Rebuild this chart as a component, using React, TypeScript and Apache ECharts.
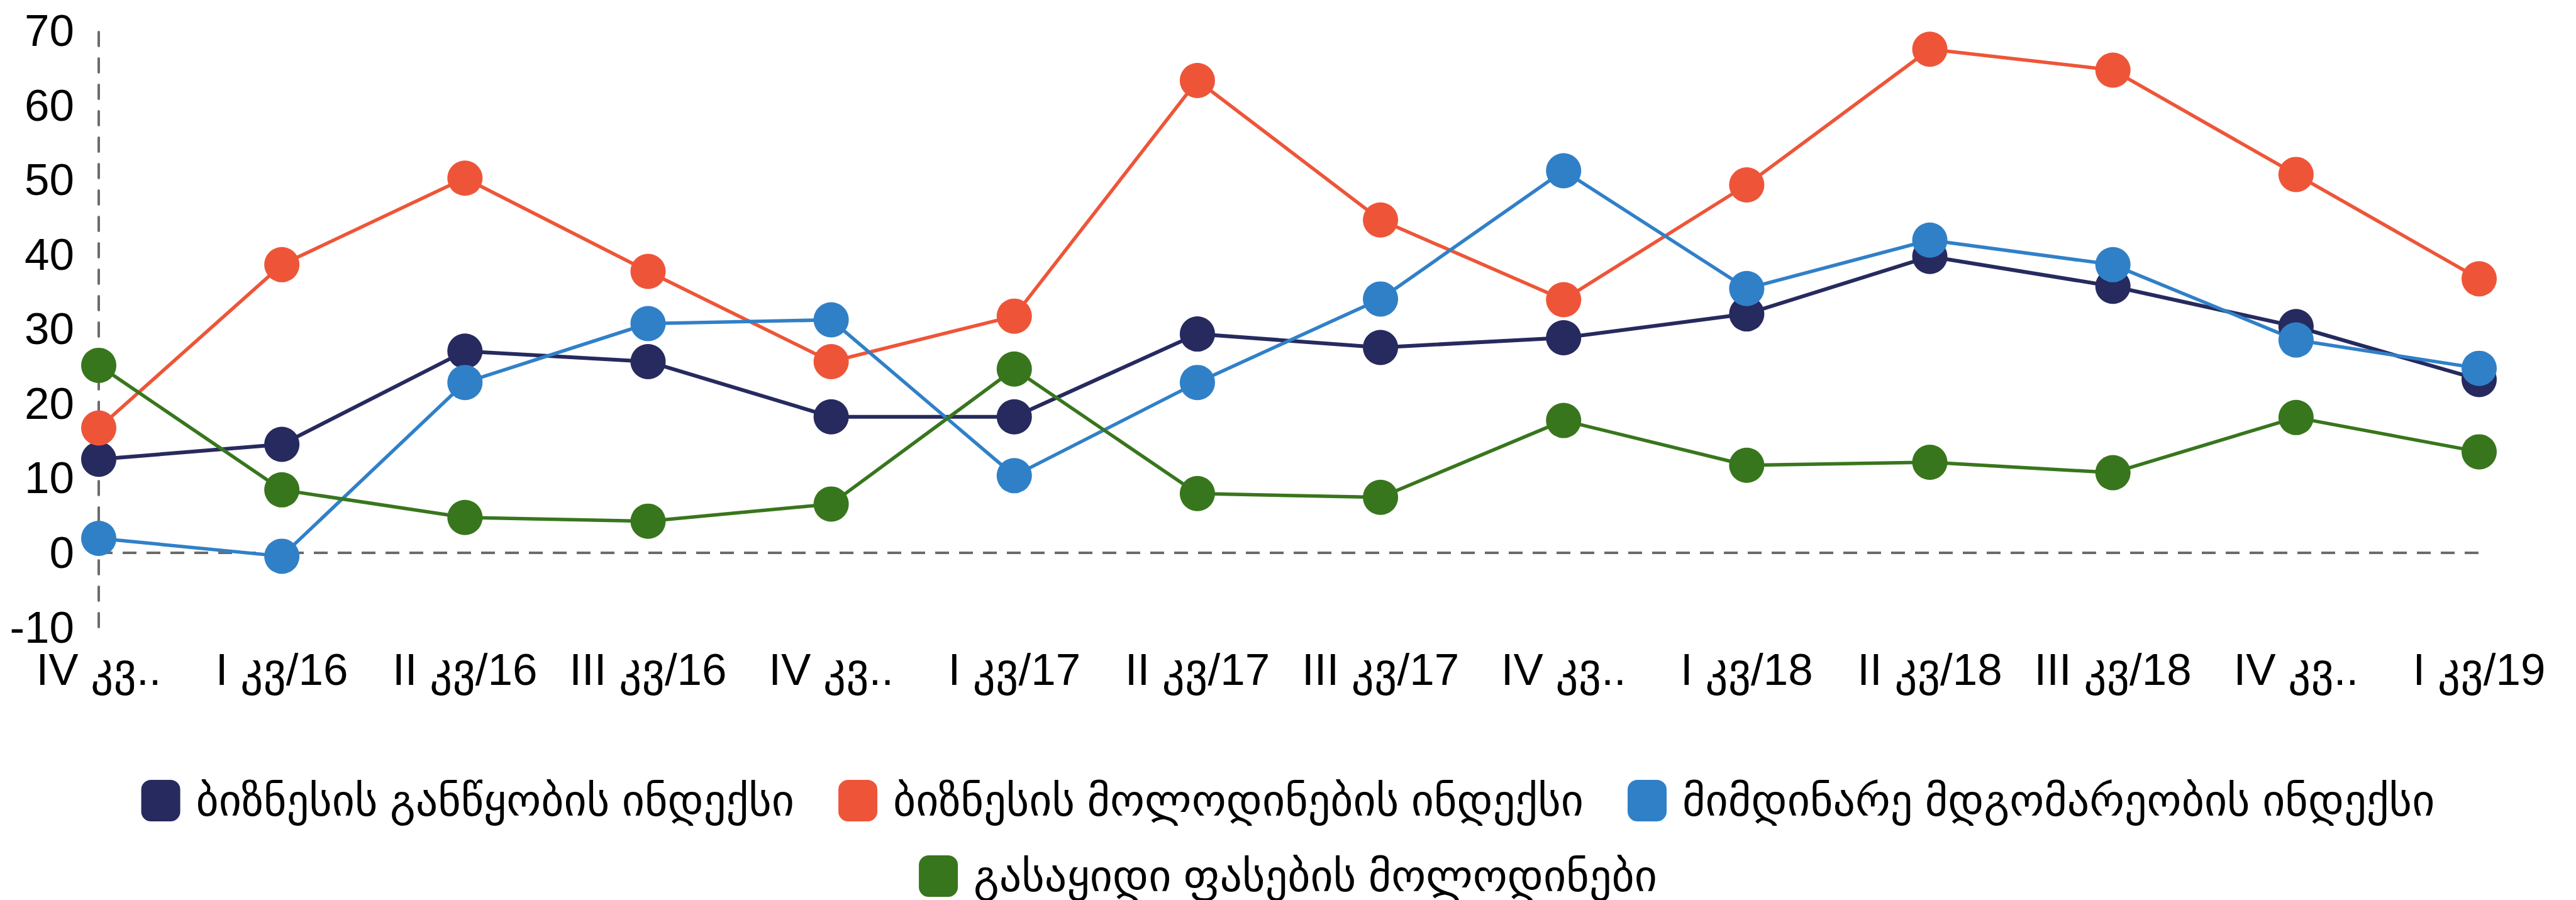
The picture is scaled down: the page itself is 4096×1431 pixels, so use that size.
import React, { useEffect, useRef } from "react";
import * as echarts from "echarts";

const categories = [
  "IV კვ/15", "I კვ/16", "II კვ/16", "III კვ/16", "IV კვ/16", "I კვ/17", "II კვ/17",
  "III კვ/17", "IV კვ/17", "I კვ/18", "II კვ/18", "III კვ/18", "IV კვ/18", "I კვ/19",
];

const seriesNames = [
  "ბიზნესის განწყობის ინდექსი",
  "ბიზნესის მოლოდინების ინდექსი",
  "მიმდინარე მდგომარეობის ინდექსი",
  "გასაყიდი ფასების მოლოდინები",
];

const sentimentIndex = [12.5, 14.5, 27.0, 25.6, 18.2, 18.2, 29.3, 27.5, 28.8, 32.0, 39.7, 35.7, 30.3, 23.2];
const expectationsIndex = [16.7, 38.6, 50.2, 37.7, 25.6, 31.7, 63.3, 44.6, 33.9, 49.3, 67.5, 64.7, 50.7, 36.7];
const currentIndex = [1.9, -0.5, 22.8, 30.7, 31.2, 10.3, 22.8, 34.0, 51.2, 35.4, 41.9, 38.6, 28.5, 24.7];
const priceExpectations = [25.1, 8.4, 4.7, 4.2, 6.5, 24.6, 7.9, 7.4, 17.7, 11.7, 12.1, 10.7, 18.1, 13.5];

const colors = ["#262A5E", "#EE5538", "#3080C8", "#38761D"];

const FONT = "'Liberation Sans', Arial, 'DejaVu Sans', sans-serif";

export default function App() {
  const ref = useRef<HTMLDivElement>(null);

  useEffect(() => {
    if (!ref.current) return;
    const chart = echarts.init(ref.current, undefined, { renderer: "svg" });
    const values = [sentimentIndex, expectationsIndex, currentIndex, priceExpectations];
    const series: any[] = values.map((d, i) => ({
      name: seriesNames[i],
      type: "line",
      data: d,
      symbol: "circle",
      symbolSize: 56,
      showAllSymbol: true,
      lineStyle: { width: i === 0 ? 6 : 5.5, color: colors[i] },
      itemStyle: { color: colors[i] },
      emphasis: { disabled: true },
      z: 3,
    }));
    series[0].markLine = {
      silent: true,
      symbol: ["none", "none"],
      label: { show: false },
      lineStyle: { color: "#6b6b6b", type: [22, 16], width: 4 },
      data: [{ yAxis: 0 }],
      z: 1,
    };

    const legendBase = {
      left: "center",
      icon: "roundRect",
      itemWidth: 62,
      itemHeight: 66,
      itemGap: 70,
      textStyle: { fontSize: 70, color: "#000", fontFamily: FONT, padding: [0, 0, 0, 20] },
    };

    chart.setOption({
      animation: false,
      color: colors,
      grid: { left: 157, right: 154, top: 48.6, bottom: 434, containLabel: false },
      xAxis: {
        type: "category",
        data: categories,
        boundaryGap: false,
        axisLine: { show: false },
        axisTick: { show: false },
        splitLine: { show: false },
        axisLabel: {
          interval: 0,
          margin: 32,
          fontSize: 71,
          color: "#000",
          fontFamily: FONT,
          formatter: (v: string) => (v.startsWith("IV ") ? "IV კვ.." : v),
        },
      },
      yAxis: {
        type: "value",
        min: -10,
        max: 70,
        interval: 10,
        axisLine: { show: true, lineStyle: { color: "#6b6b6b", type: [22, 20], width: 4 } },
        axisTick: { show: false },
        splitLine: { show: false },
        axisLabel: { margin: 39, fontSize: 71, color: "#000", fontFamily: FONT },
      },
      legend: [
        { ...legendBase, data: seriesNames.slice(0, 3), top: 1233 },
        { ...legendBase, data: seriesNames.slice(3), top: 1353 },
      ],
      series,
    });
    return () => chart.dispose();
  }, []);

  return (
    <div
      ref={ref}
      style={{ position: "absolute", left: 0, top: 0, width: 4096, height: 1431, background: "#fff" }}
    />
  );
}
